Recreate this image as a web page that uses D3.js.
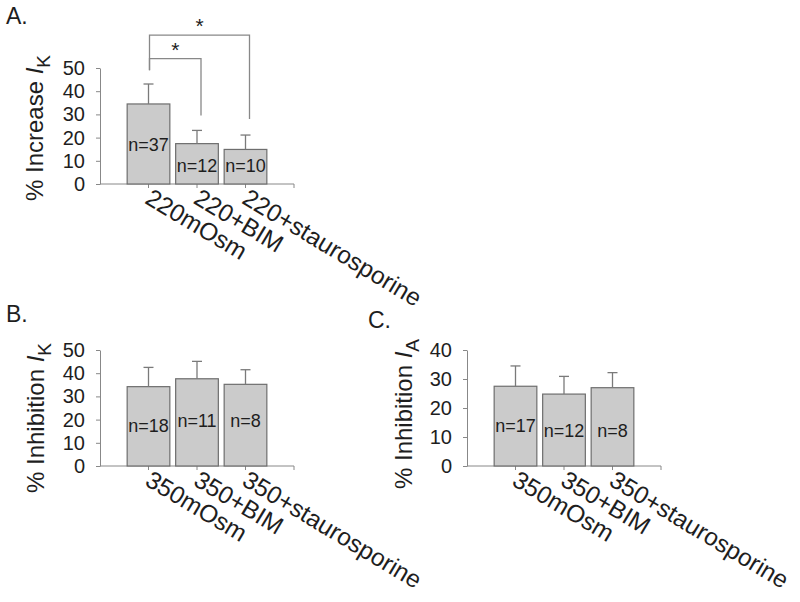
<!DOCTYPE html>
<html>
<head>
<meta charset="utf-8">
<script src="https://cdn.jsdelivr.net/npm/d3@7"></script>
<style>
  body { margin: 0; background: #fff; }
  text { font-family: "Liberation Sans", Arial, sans-serif; fill: #1e1e1e; }
</style>
</head>
<body>
<svg id="chart" width="800" height="602"></svg>
<script>
// panel A data
const catsA = ["220mOsm", "220+BIM", "220+staurosporine"];
const valsA = [34.5, 17.4, 14.9];
const errA = [8.6, 5.7, 6.2];
const nA = ["n=37", "n=12", "n=10"];
const ticksA = [0, 10, 20, 30, 40, 50];
// significance brackets: [from, to, level, drop-end]
const sigA = [[0, 1, 54, 29.5], [0, 2, 64.2, 28]];

// panel B data
const catsB = ["350mOsm", "350+BIM", "350+staurosporine"];
const valsB = [34.2, 37.6, 35.2];
const errB = [8.3, 7.5, 6.3];
const nB = ["n=18", "n=11", "n=8"];
const ticksB = [0, 10, 20, 30, 40, 50];

// panel C data
const catsC = ["350mOsm", "350+BIM", "350+staurosporine"];
const valsC = [27.5, 24.8, 27.0];
const errC = [7.0, 6.1, 5.2];
const nC = ["n=17", "n=12", "n=8"];
const ticksC = [0, 10, 20, 30, 40];

const svg = d3.select("#chart");

function drawPanel(opt) {
    const g = svg.append("g");
    const step = opt.width / 4;
    const x = d3.scalePoint().domain(opt.cats).range([opt.left + step, opt.left + 3 * step]);
    const y = d3.scaleLinear().domain([0, opt.max]).range([opt.bottom, opt.top]);
    const barW = step * 0.88;

    // panel letter
    g.append("text")
        .attr("x", opt.letterX).attr("y", opt.letterY)
        .attr("font-size", 23)
        .text(opt.letter);

    // y axis
    const yAxis = g.append("g")
        .attr("transform", `translate(${opt.left},0)`)
        .call(d3.axisLeft(y).tickValues(opt.ticks).tickSize(4).tickPadding(11).tickSizeOuter(0));
    yAxis.select(".domain").attr("stroke", "#888");
    yAxis.selectAll(".tick line").attr("stroke", "#888");
    yAxis.selectAll(".tick text")
        .attr("font-size", 20)
        .attr("font-family", "Liberation Sans, Arial, sans-serif")
        .attr("fill", "#1e1e1e");

    // y title
    const t = g.append("text")
        .attr("transform", `translate(${opt.titleX},${opt.titleY}) rotate(-90)`)
        .attr("text-anchor", "middle")
        .attr("font-size", 24);
    t.append("tspan").text(opt.title + " ");
    t.append("tspan").attr("font-style", "italic").text("I");
    t.append("tspan").attr("font-size", 19).attr("dy", 7).text(opt.sub);

    // x axis line + ticks
    g.append("line")
        .attr("x1", opt.left).attr("x2", opt.left + opt.width)
        .attr("y1", opt.bottom).attr("y2", opt.bottom)
        .attr("stroke", "#888");
    const tickX = opt.cats.map(c => x(c)).concat([opt.left + opt.width]);
    g.selectAll(".xt").data(tickX).join("line")
        .attr("x1", d => d).attr("x2", d => d)
        .attr("y1", opt.bottom).attr("y2", opt.bottom + 4)
        .attr("stroke", "#888");

    // bars
    g.selectAll(".bar").data(opt.vals).join("rect")
        .attr("x", (d, i) => x(opt.cats[i]) - barW / 2)
        .attr("y", d => y(d))
        .attr("width", barW)
        .attr("height", d => opt.bottom - y(d))
        .attr("fill", "#cbcbcb")
        .attr("stroke", "#6e6e6e")
        .attr("stroke-width", 1.2);

    // error bars (upper only)
    const eb = g.append("g").attr("stroke", "#7a7a7a").attr("stroke-width", 1.3);
    opt.vals.forEach((v, i) => {
        const cx = x(opt.cats[i]);
        eb.append("line").attr("x1", cx).attr("x2", cx).attr("y1", y(v)).attr("y2", y(v + opt.err[i]));
        eb.append("line").attr("x1", cx - 5).attr("x2", cx + 5).attr("y1", y(v + opt.err[i])).attr("y2", y(v + opt.err[i]));
    });

    // n labels
    g.selectAll(".nl").data(opt.n).join("text")
        .attr("x", (d, i) => x(opt.cats[i]))
        .attr("y", (d, i) => y(opt.nPos[i]))
        .attr("dy", "0.35em")
        .attr("text-anchor", "middle")
        .attr("font-size", 18)
        .text(d => d);

    // category labels
    g.selectAll(".cl").data(opt.cats).join("text")
        .attr("transform", d => `translate(${x(d) + 5},${opt.bottom + 2}) rotate(31)`)
        .attr("dy", "0.78em")
        .attr("font-size", 24.5)
        .text(d => d);

    // significance brackets
    if (opt.sig) {
        const sg = g.append("g").attr("stroke", "#888").attr("fill", "none").attr("stroke-width", 1.3);
        opt.sig.forEach(s => {
            const x0 = x(opt.cats[s[0]]) + 1;
            const x1 = x(opt.cats[s[1]]) + 4;
            sg.append("path")
                .attr("d", d3.line()([[x0, y(49)], [x0, y(s[2])], [x1, y(s[2])], [x1, y(s[3])]]));
            g.append("text")
                .attr("x", (x0 + x1) / 2)
                .attr("y", y(s[2]) - 2)
                .attr("text-anchor", "middle")
                .attr("font-size", 21)
                .text("*");
        });
    }
}

drawPanel({
    cats: catsA, vals: valsA, err: errA, n: nA, nPos: [17, 8, 8], ticks: ticksA, max: 50,
    left: 100, width: 194, top: 68, bottom: 184,
    letter: "A.", letterX: 6, letterY: 24,
    title: "% Increase", sub: "K", titleX: 43, titleY: 128,
    sig: sigA
});

drawPanel({
    cats: catsB, vals: valsB, err: errB, n: nB, nPos: [17.5, 19.5, 19.5], ticks: ticksB, max: 50,
    left: 100, width: 194, top: 350, bottom: 466,
    letter: "B.", letterX: 6, letterY: 322,
    title: "% Inhibition", sub: "K", titleX: 44, titleY: 418
});

drawPanel({
    cats: catsC, vals: valsC, err: errC, n: nC, nPos: [14, 12.3, 12.3], ticks: ticksC, max: 40,
    left: 467, width: 194, top: 350, bottom: 466,
    letter: "C.", letterX: 368, letterY: 328,
    title: "% Inhibition", sub: "A", titleX: 412, titleY: 414
});
</script>
</body>
</html>
